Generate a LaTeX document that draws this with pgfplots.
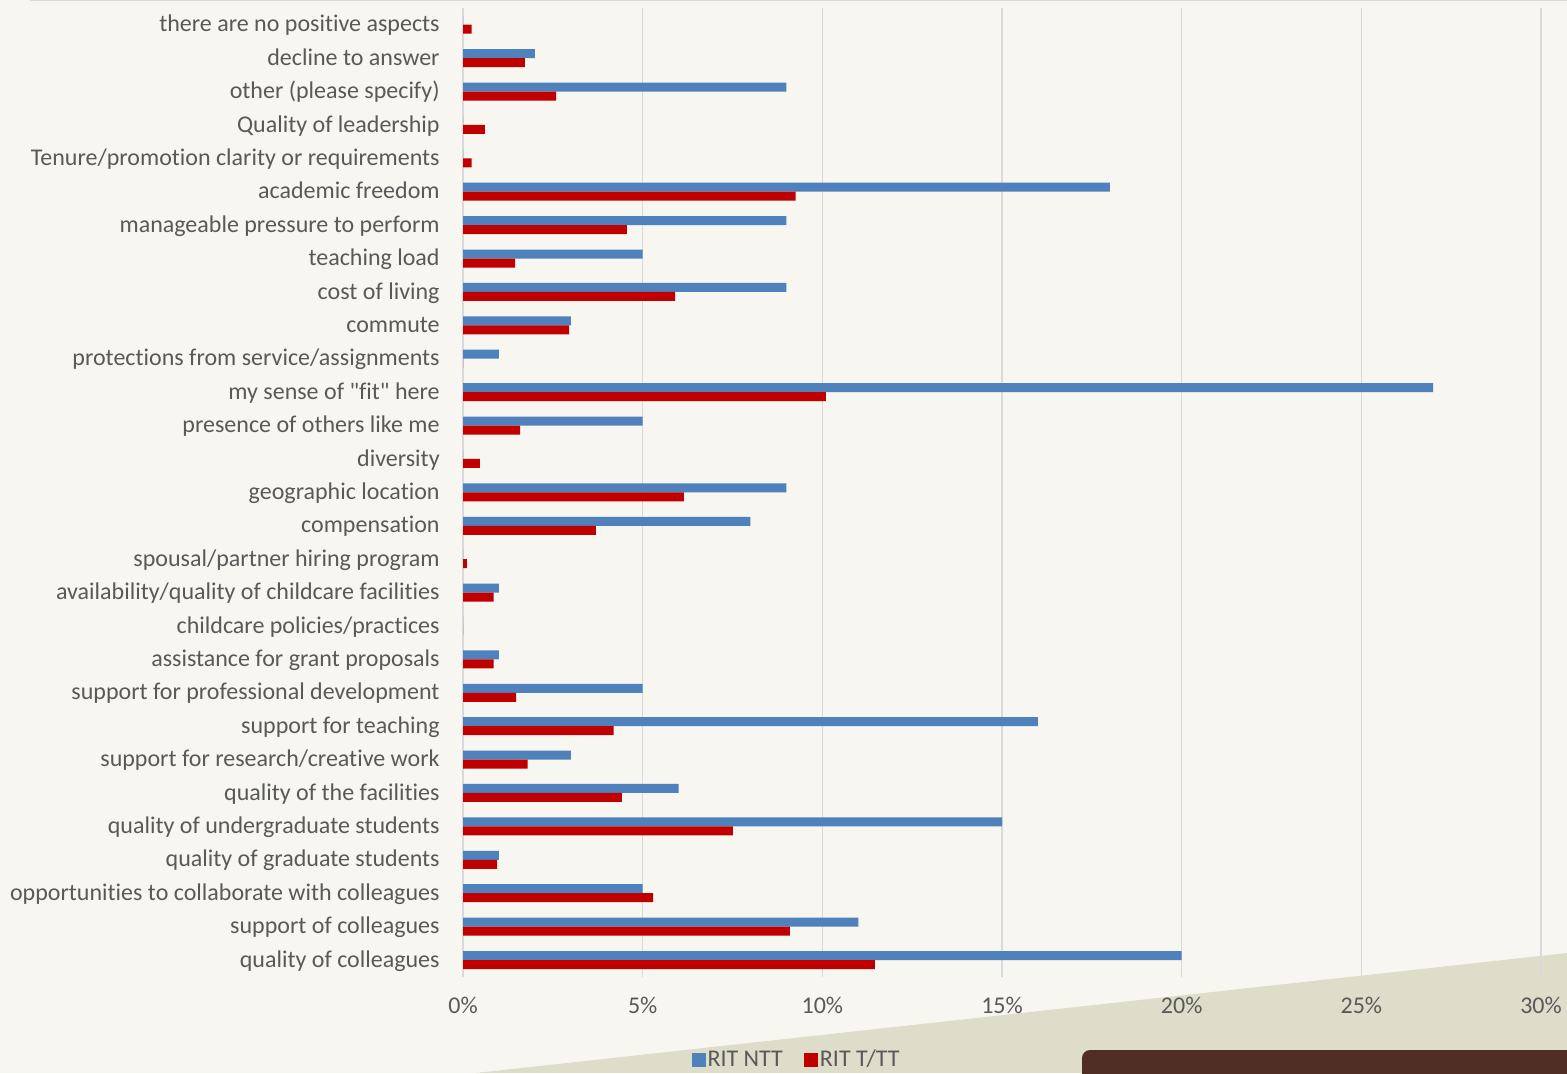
\documentclass[border=0pt]{standalone}
\usepackage{pgfplots}
\pgfplotsset{compat=1.18}
\usepackage{fontspec}
\setmainfont{Carlito}[Ligatures={TeXOff,NoCommon}]
\definecolor{bg}{HTML}{F7F6F0}
\definecolor{ntt}{HTML}{4F81BD}
\definecolor{tt}{HTML}{C00000}
\definecolor{txt}{HTML}{595959}
\definecolor{gridc}{HTML}{D9D9D9}
\definecolor{beige}{HTML}{DEDDCA}
\definecolor{brownbox}{HTML}{4F2E26}
\begin{document}
\begin{tikzpicture}
\useasboundingbox (0,0) rectangle (783.5pt,536.5pt);
\fill[bg] (0,0) rectangle (783.5pt,536.5pt);
\fill[beige] (238pt,0pt) -- (783.5pt,60pt) -- (783.5pt,0pt) -- cycle;
\fill[brownbox, rounded corners=4pt] (541pt,-10pt) rectangle (800pt,11.5pt);
\draw[gridc, line width=0.8pt] (15pt,536.2pt) -- (783.5pt,536.2pt);
\begin{axis}[
  at={(231.5pt,48.15pt)}, anchor=south west,
  scale only axis, width=539pt, height=484.35pt,
  xbar, bar width=4.5pt,
  xmin=0, xmax=30, ymin=-0.5, ymax=28.5,
  xtick={0,5,10,15,20,25,30},
  xticklabels={0\%,5\%,10\%,15\%,20\%,25\%,30\%},
  ytick={0,...,28},
  yticklabels={quality of colleagues,support of colleagues,opportunities to collaborate with colleagues,quality of graduate students,quality of undergraduate students,quality of the facilities,support for research/creative work,support for teaching,support for professional development,assistance for grant proposals,childcare policies/practices,availability/quality of childcare facilities,spousal/partner hiring program,compensation,geographic location,diversity,presence of others like me,my sense of "fit" here,protections from service/assignments,commute,cost of living,teaching load,manageable pressure to perform,academic freedom,Tenure/promotion clarity or requirements,Quality of leadership,other (please specify),decline to answer,there are no positive aspects},
  axis line style={draw=none},
  major tick length=0pt,
  xmajorgrids, ymajorgrids=false,
  grid style={gridc, line width=0.8pt},
  tick label style={font=\fontsize{12}{14}\selectfont, text=txt},
  yticklabel style={anchor=base east, inner sep=0pt, xshift=-11.5pt, yshift=-3.6pt},
  xticklabel style={anchor=base, inner sep=0pt, yshift=-18.4pt},
  legend style={at={(0.3094,-0.086)}, anchor=center, draw=none, fill=none,
    legend columns=-1, font=\fontsize{12}{14}\selectfont, text=txt,
    nodes={inner sep=1pt},
    /tikz/every even column/.append style={column sep=9.5pt}},
  legend image code/.code={\fill[#1] (0pt,-3.5pt) rectangle (7pt,3.5pt);},
]
\addplot[fill=ntt, draw=none, bar shift=2.25pt] coordinates {
(20,0) (11,1) (5,2) (1,3) (15,4) (6,5) (3,6) (16,7) (5,8) (1,9)
(0,10) (1,11) (0,12) (8,13) (9,14) (0,15) (5,16) (27,17) (1,18) (3,19)
(9,20) (5,21) (9,22) (18,23) (0,24) (0,25) (9,26) (2,27) (0,28)};
\addplot[fill=tt, draw=none, bar shift=-2.25pt] coordinates {
(11.46,0) (9.1,1) (5.29,2) (0.95,3) (7.51,4) (4.42,5) (1.8,6) (4.19,7) (1.48,8) (0.85,9)
(0,10) (0.85,11) (0.11,12) (3.7,13) (6.15,14) (0.47,15) (1.59,16) (10.1,17) (0,18) (2.95,19)
(5.9,20) (1.45,21) (4.56,22) (9.26,23) (0.24,24) (0.61,25) (2.59,26) (1.72,27) (0.24,28)};
\legend{RIT NTT, RIT T/TT}
\end{axis}
\end{tikzpicture}
\end{document}
